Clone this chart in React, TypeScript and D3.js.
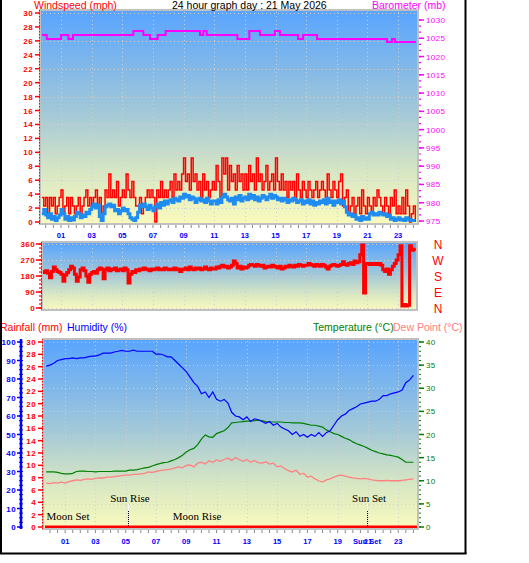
import React from 'react';
import * as d3 from 'd3';

// ---------- DATA ----------
const hourLabels = ['01','03','05','07','09','11','13','15','17','19','21','23'];
const labelHours = [1,3,5,7,9,11,13,15,17,19,21,23];

const windTicks = [0,2,4,6,8,10,12,14,16,18,20,22,24,26,28,30];
const baroTicks = [975,980,985,990,995,1000,1005,1010,1015,1020,1025,1030];
const dirTicks = [0,90,180,270,360];
const dirLetters = ['N','E','S','W','N'];
const humTicks = [0,10,20,30,40,50,60,70,80,90,100];
const rainTicks = [0,2,4,6,8,10,12,14,16,18,20,22,24,26,28,30];
const tempTicks = [0,5,10,15,20,25,30,35,40];

// 8 samples per hour starting at -0.25 h
const fastStart = -0.25;
const fastStep = 0.125;
const windGust = [
  3.5, 2.3,
  3.5, 1.2, 3.5, 2.3, 3.5, 1.2, 2.3, 3.5,
  4.6, 1.2, 2.3, 3.5, 1.2, 3.5, 2.3, 1.2,
  2.3, 3.5, 1.2, 2.3, 3.5, 4.6, 2.3, 3.5,
  2.3, 3.5, 4.6, 2.3, 3.5, 1.2, 2.3, 4.6,
  3.5, 6.9, 3.5, 4.6, 3.5, 5.8, 2.3, 3.5,
  4.6, 3.5, 6.9, 4.6, 3.5, 5.8, 3.5, 2.3,
  2.3, 3.5, 1.2, 2.3, 3.5, 4.6, 3.5, 4.6,
  3.5, 0, 4.6, 3.5, 5.8, 3.5, 4.6, 3.5,
  4.6, 5.8, 3.5, 6.9, 4.6, 5.8, 4.6, 6.9,
  9.2, 5.8, 6.9, 4.6, 9.2, 5.8, 6.9, 4.6,
  5.8, 3.5, 6.9, 4.6, 5.8, 3.5, 4.6, 5.8,
  4.6, 8.1, 5.8, 3.5, 9.2, 6.9, 9.2, 4.6,
  8.1, 5.8, 6.9, 4.6, 8.1, 5.8, 6.9, 4.6,
  6.9, 4.6, 8.1, 5.8, 6.9, 4.6, 9.2, 5.8,
  6.9, 4.6, 5.8, 8.1, 4.6, 5.8, 6.9, 4.6,
  9.2, 5.8, 4.6, 6.9, 4.6, 5.8, 3.5, 5.8,
  4.6, 5.8, 3.5, 6.9, 4.6, 3.5, 5.8, 4.6,
  3.5, 5.8, 4.6, 3.5, 4.6, 5.8, 3.5, 4.6,
  5.8, 4.6, 3.5, 6.9, 4.6, 3.5, 5.8, 4.6,
  3.5, 5.8, 6.9, 2.3, 3.5, 4.6, 1.2, 2.3,
  3.5, 1.2, 2.3, 3.5, 1.2, 4.6, 2.3, 1.2,
  3.5, 2.3, 1.2, 3.5, 2.3, 4.6, 3.5, 2.3,
  1.2, 3.5, 2.3, 1.2, 3.5, 2.3, 4.6, 1.2,
  2.3, 1.2, 3.5, 1.2, 4.6, 2.3, 0, 1.2,
  2.3, 0,
];
const windAvg = [
  1.2, 1.8,
  1.0, 0.6, 1.2, 0.4, 0.8, 0.2, 0.6, 1.0,
  1.8, 1.2, 0.4, 0.8, 0.2, 0.6, 0.3, 0.8,
  1.4, 1.2, 0.6, 1.0, 0.8, 1.4, 1.2, 1.8,
  2.2, 2.6, 2.0, 2.4, 0.8, 0.2, 1.2, 2.2,
  2.4, 2.6, 2.2, 2.4, 1.6, 1.8, 1.2, 1.6,
  2.0, 1.6, 1.8, 1.2, 0.6, 0.4, 0.2, 0.6,
  1.4, 2.4, 2.2, 2.6, 2.2, 1.8, 2.4, 2.0,
  1.6, 2.2, 2.6, 2.0, 2.8, 2.4, 3.0, 2.6,
  3.0, 3.2, 2.8, 3.4, 3.2, 3.0, 3.6, 3.4,
  4.0, 3.6, 3.8, 3.2, 3.6, 3.4, 2.8, 3.2,
  3.4, 3.0, 3.2, 2.8, 3.4, 3.0, 2.6, 3.0,
  3.0, 2.6, 3.2, 2.8, 3.6, 4.0, 3.6, 3.2,
  3.0, 3.4, 2.6, 3.6, 3.2, 3.8, 3.0, 3.4,
  3.6, 3.2, 4.0, 3.4, 3.8, 3.2, 3.6, 3.0,
  3.4, 3.8, 3.6, 3.2, 3.6, 4.0, 3.4, 3.8,
  3.6, 3.2, 3.4, 3.0, 3.4, 3.2, 2.8, 3.2,
  3.0, 3.4, 3.2, 2.8, 3.0, 3.2, 2.6, 3.0,
  2.8, 3.2, 2.6, 3.0, 2.4, 2.8, 2.6, 3.0,
  2.8, 3.2, 2.6, 3.4, 2.8, 3.0, 2.4, 3.0,
  2.8, 3.2, 2.6, 3.0, 2.2, 1.4, 1.0, 1.2,
  0.8, 1.0, 0.4, 0.6, 0.2, 0.8, 0.4, 0.6,
  0.4, 1.2, 1.4, 1.0, 1.2, 1.0, 1.4, 1.2,
  1.0, 1.2, 0.8, 1.0, 0.4, 0.6, 0.2, 0.4,
  0.6, 0.3, 0.4, 0.2, 0.6, 0.4, 0.3, 0.2,
  0.2, 0.2,
];
const windDir = [
  205, 200,
  210, 195, 170, 205, 230, 215, 205, 200,
  190, 150, 185, 200, 215, 235, 225, 190,
  150, 175, 215, 225, 210, 180, 145, 190,
  200, 205, 195, 215, 225, 220, 165, 215,
  225, 210, 220, 215, 225, 210, 215, 220,
  210, 225, 215, 140, 190, 205, 200, 215,
  210, 220, 215, 225, 220, 215, 210, 220,
  215, 220, 225, 215, 220, 215, 225, 220,
  215, 220, 215, 225, 215, 220, 205, 215,
  220, 225, 215, 230, 220, 215, 225, 220,
  225, 215, 220, 230, 220, 215, 225, 220,
  220, 230, 225, 235, 240, 230, 235, 225,
  230, 240, 265, 250, 225, 235, 220, 230,
  225, 230, 240, 245, 240, 235, 245, 240,
  235, 240, 225, 230, 235, 230, 240, 235,
  230, 225, 235, 220, 225, 235, 230, 240,
  235, 230, 240, 235, 245, 240, 235, 240,
  240, 250, 245, 240, 235, 245, 240, 235,
  245, 240, 230, 220, 235, 240, 245, 240,
  235, 240, 245, 260, 245, 240, 250, 255,
  245, 265, 255, 260, 300, 355, 84, 250,
  250, 245, 250, 245, 250, 245, 250, 240,
  215, 205, 220, 190, 215, 235, 250, 270,
  300, 350, 11, 20, 11, 15, 350, 325,
  330, 335,
];

// barometer step changes (hour, mb)
const baroHours = [-0.24, 0.07, 1.0, 1.48, 1.78, 5.72, 6.37, 6.81, 7.31, 7.83, 10.07, 10.29, 10.51, 12.51, 13.29, 13.99, 14.96, 15.29, 16.47, 16.8, 17.71, 22.28, 22.6, 22.8, 24.17];
const baroValues = [1025.9, 1024.8, 1025.9, 1024.8, 1025.9, 1027.0, 1025.9, 1024.8, 1025.9, 1027.0, 1025.9, 1027.0, 1025.9, 1024.8, 1027.0, 1025.9, 1027.0, 1025.9, 1024.8, 1025.9, 1024.8, 1024.0, 1024.8, 1024.0, 1024.0];

// 4 samples per hour starting at -0.25 h
const slowStart = -0.25;
const slowStep = 0.25;
const humidity = [
  87,
  87.5, 88.5, 90, 90.5,
  91, 91, 91.4, 91,
  91.4, 91.4, 92, 92.4,
  92.4, 93, 94, 94,
  94, 94.6, 95, 95.5,
  95, 95, 95.6, 95,
  95, 95, 95, 95,
  93.5, 93.5, 93, 92,
  92, 90, 88, 86,
  84, 81, 78, 76,
  72, 73, 70, 73,
  69, 68, 69, 67,
  62, 60, 59.5, 58,
  59.5, 57, 58.5, 58,
  57, 56, 57, 55,
  56, 54, 53, 52,
  50, 51.5, 49, 50,
  48.5, 50, 49, 51,
  49, 51, 52, 55,
  58, 60, 61, 63,
  64, 65, 66.5, 67,
  67.5, 68, 68, 69,
  71, 71, 72, 72.5,
  73, 74, 78, 79.5,
  82,
];
const temperature = [
  11.9,
  11.9, 11.9, 11.8, 11.6,
  11.5, 11.5, 11.6, 12.0,
  12.1, 12.1, 12.0, 12.0,
  11.9, 12.0, 12.0, 12.0,
  12.0, 12.1, 12.1, 12.1,
  12.1, 12.3, 12.3, 12.4,
  12.6, 12.8, 12.9, 13.2,
  13.5, 13.7, 13.9, 14.0,
  14.3, 14.6, 15.0, 15.5,
  16.2, 16.7, 17.0, 17.8,
  19.0, 19.9, 19.5, 19.4,
  20.2, 20.5, 20.8, 21.5,
  22.5, 22.6, 22.7, 22.8,
  22.9, 22.9, 23.0, 23.1,
  23.0, 22.8, 22.7, 22.7,
  22.7, 22.7, 22.6, 22.6,
  22.5, 22.5, 22.5, 22.4,
  22.2, 22.0, 22.0, 21.8,
  21.6, 21.0, 20.6, 20.2,
  20.0, 19.6, 19.2, 18.9,
  18.4, 18.0, 17.7, 17.4,
  17.0, 16.6, 16.3, 16.0,
  15.8, 15.6, 15.5, 15.3,
  15.1, 14.6, 14.0, 14.0,
  14.0,
];
const dewPoint = [
  9.5,
  9.4, 9.6, 9.5, 9.7,
  9.5, 9.8, 10.0, 10.2,
  10.1, 10.3, 10.4, 10.3,
  10.5, 10.6, 10.6, 10.8,
  10.8, 10.9, 11.0, 11.1,
  11.2, 11.2, 11.4, 11.4,
  11.5, 11.6, 11.9, 11.8,
  12.0, 12.2, 12.3, 12.4,
  12.5, 12.8, 13.0, 12.8,
  13.3, 13.4, 13.0, 13.8,
  14.0, 13.6, 14.3, 14.0,
  14.5, 14.2, 14.6, 14.9,
  14.4, 15.0, 14.6, 14.2,
  14.6, 14.0, 14.4, 13.9,
  13.8, 14.1, 13.6, 13.8,
  13.0, 13.2, 12.6, 12.2,
  11.9, 12.3, 11.4, 11.6,
  10.8, 11.0, 10.4, 10.0,
  9.7, 10.2, 10.4, 10.8,
  11.1, 11.2, 11.0, 10.8,
  10.6, 10.5, 10.4, 10.5,
  10.4, 10.2, 10.1, 10.0,
  10.0, 10.1, 10.0, 10.0,
  10.0, 10.1, 10.2, 10.3,
  10.4,
];
const rainHours = [-0.33, 24.25];
const rainfall = [0, 0];

const sunEventNames = ['Sun Rise', 'Sun Set'];
const sunEventHours = [5.15, 20.94];
const moonEventNames = ['Moon Set', 'Moon Rise'];
const moonEventHours = [1.19, 9.71];

// ---------- LAYOUT ----------
const FONT = '"Liberation Sans", Arial, sans-serif';
const SERIF = '"Liberation Serif", "Times New Roman", serif';
const GRID = '#cfcfcf';
const BORDER = '#c0c0c0';

const top = { x0: 40, x1: 418, y0: 10, y1: 224 };
const mid = { x0: 42, x1: 417, y0: 242, y1: 310 };
const bot = { x0: 43, x1: 418, y0: 339, y1: 529 };

const xTop = d3.scaleLinear().domain([0, 24]).range([45.7, 413.4]);
const xBot = d3.scaleLinear().domain([0, 24]).range([50, 413.4]);
const windY = d3.scaleLinear().domain([0, 30]).range([222, 13]);
const baroY = d3.scaleLinear().domain([975, 1030]).range([221, 20]);
const dirY = d3.scaleLinear().domain([0, 360]).range([308, 244]);
const humY = d3.scaleLinear().domain([0, 100]).range([527, 342]);
const rainY = d3.scaleLinear().domain([0, 30]).range([527, 342]);
const tempY = d3.scaleLinear().domain([0, 40]).range([527, 342]);

const fastHours = windGust.map((_, i) => fastStart + i * fastStep);
const slowHours = humidity.map((_, i) => slowStart + i * slowStep);

function seriesPath(hours: number[], vals: number[], xs: any, ys: any, curve: any = d3.curveStepAfter) {
  const gen = d3.line<number>()
    .x((_, i) => xs(hours[i]))
    .y((v) => ys(v))
    .curve(curve);
  return gen(vals) || '';
}

const halfHours = d3.range(-0.5, 24.01, 0.5).filter((h) => h >= -0.2);
const oddHours = labelHours;

function Background({ p, id }: { p: any; id: string }) {
  return <rect x={p.x0} y={p.y0} width={p.x1 - p.x0} height={p.y1 - p.y0} fill={`url(#${id})`} />;
}

function Border({ p }: { p: any }) {
  return <rect x={p.x0} y={p.y0} width={p.x1 - p.x0} height={p.y1 - p.y0} fill="none" stroke={BORDER} strokeWidth={2} />;
}

export default function App() {
  const grad = (id: string) => (
    <linearGradient id={id} x1="0" y1="0" x2="0" y2="1">
      <stop offset="0" stopColor="#58a4ff" />
      <stop offset="0.5" stopColor="#a6cad6" />
      <stop offset="0.75" stopColor="#d6e6c4" />
      <stop offset="1" stopColor="#fafabd" />
    </linearGradient>
  );

  return (
    <svg width={529} height={563} style={{ position: 'absolute', left: 0, top: 0, background: '#fff' }}
      fontFamily={FONT}>
      <defs>{grad('g1')}{grad('g2')}{grad('g3')}</defs>

      {/* ================= TOP PANEL ================= */}
      <Background p={top} id="g1" />
      <g stroke={GRID} strokeDasharray="1,3" shapeRendering="crispEdges">
        {oddHours.map((h) => (
          <line key={'tv' + h} x1={Math.round(xTop(h)) + 0.5} x2={Math.round(xTop(h)) + 0.5} y1={top.y0 + 2} y2={top.y1} />
        ))}
        {[2, 6, 10, 14, 18, 22, 26, 30].map((v) => (
          <line key={'th' + v} x1={top.x0 + 2} x2={top.x1} y1={Math.round(windY(v)) + 0.5} y2={Math.round(windY(v)) + 0.5} />
        ))}
      </g>
      <path d={seriesPath(baroHours, baroValues, xTop, baroY)} fill="none" stroke="#ff00ff" strokeWidth={2} />
      <path d={seriesPath(fastHours, windGust, xTop, windY)} fill="none" stroke="#ff0000" strokeWidth={1.5} />
      <path d={seriesPath(fastHours, windAvg, xTop, windY)} fill="none" stroke="#1e8cf0" strokeWidth={3} />
      <Border p={top} />
      {/* left wind axis */}
      <line x1={39.5} x2={39.5} y1={top.y0} y2={top.y1} stroke="#ff0000" strokeDasharray="1.5,1.5" />
      {windTicks.map((v) => (
        <g key={'wt' + v}>
          <line x1={35} x2={40} y1={windY(v)} y2={windY(v)} stroke="#ff0000" strokeWidth={1.5} />
          <text x={33} y={windY(v) + 3} fontSize={8} fontWeight="bold" fill="#ff0000" textAnchor="end" letterSpacing={0.4}>{v}</text>
        </g>
      ))}
      {/* right baro axis */}
      {d3.range(975, 1031, 5 / 3).map((v, i) => (
        <line key={'bm' + i} x1={419} x2={421} y1={baroY(v)} y2={baroY(v)} stroke="#ff00ff" strokeWidth={1.2} />
      ))}
      {baroTicks.map((v) => (
        <g key={'bt' + v}>
          <line x1={419} x2={424} y1={baroY(v)} y2={baroY(v)} stroke="#ff00ff" strokeWidth={1.5} />
          <text x={426} y={baroY(v) + 3} fontSize={8} fill="#ff00ff" letterSpacing={0.4}>{v}</text>
        </g>
      ))}
      {/* hour ticks under top panel */}
      {halfHours.map((h) => (
        <line key={'tt' + h} x1={xTop(h)} x2={xTop(h)} y1={225} y2={228} stroke="#8a8a8a" strokeWidth={1} />
      ))}
      {labelHours.map((h, i) => (
        <text key={'hl' + h} x={xTop(h)} y={238} fontSize={7.5} fontWeight="bold" fill="#0000ff" textAnchor="middle">{hourLabels[i]}</text>
      ))}

      {/* ================= MIDDLE PANEL ================= */}
      <Background p={mid} id="g2" />
      <g stroke={GRID} strokeDasharray="1,3" shapeRendering="crispEdges">
        {oddHours.map((h) => (
          <line key={'mv' + h} x1={Math.round(xTop(h)) + 0.5} x2={Math.round(xTop(h)) + 0.5} y1={mid.y0 + 2} y2={mid.y1} />
        ))}
        {dirTicks.map((v) => (
          <line key={'mh' + v} x1={mid.x0 + 2} x2={mid.x1} y1={Math.round(dirY(v)) + 0.5} y2={Math.round(dirY(v)) + 0.5} />
        ))}
      </g>
      <path d={seriesPath(fastHours, windDir, xTop, dirY)} fill="none" stroke="#ff0000" strokeWidth={3} />
      <Border p={mid} />
      <line x1={41.5} x2={41.5} y1={mid.y0} y2={mid.y1} stroke="#ff0000" strokeDasharray="1.5,1.5" />
      {d3.range(0, 361, 22.5).map((v, i) => (
        <line key={'dm' + i} x1={39} x2={42} y1={dirY(v)} y2={dirY(v)} stroke="#ff0000" strokeWidth={1.2} />
      ))}
      {dirTicks.map((v, i) => (
        <g key={'dt' + v}>
          <line x1={36} x2={42} y1={dirY(v)} y2={dirY(v)} stroke="#ff0000" strokeWidth={1.5} />
          <text x={35} y={dirY(v) + 3} fontSize={8} fontWeight="bold" fill="#ff0000" textAnchor="end" letterSpacing={0.4}>{v}</text>
          <text x={438} y={dirY(v) + 5} fontSize={12} fill="#ff0000" textAnchor="middle">{dirLetters[i]}</text>
        </g>
      ))}

      {/* ================= BOTTOM PANEL ================= */}
      <Background p={bot} id="g3" />
      <g stroke={GRID} strokeDasharray="1,3" shapeRendering="crispEdges">
        {oddHours.map((h) => (
          <line key={'bv' + h} x1={Math.round(xBot(h)) + 0.5} x2={Math.round(xBot(h)) + 0.5} y1={bot.y0 + 2} y2={bot.y1} />
        ))}
        {tempTicks.map((v) => (
          <line key={'bh' + v} x1={bot.x0 + 2} x2={bot.x1} y1={Math.round(tempY(v)) + 0.5} y2={Math.round(tempY(v)) + 0.5} />
        ))}
      </g>
      <path d={seriesPath(slowHours, dewPoint, xBot, tempY, d3.curveLinear)} fill="none" stroke="#ff8080" strokeWidth={1.3} />
      <path d={seriesPath(slowHours, temperature, xBot, tempY, d3.curveLinear)} fill="none" stroke="#008000" strokeWidth={1.2} />
      <path d={seriesPath(slowHours, humidity, xBot, humY, d3.curveLinear)} fill="none" stroke="#0000ff" strokeWidth={1.2} />
      {/* sun / moon events */}
      {sunEventHours.map((h, i) => (
        <g key={'se' + i}>
          <line x1={Math.round(xBot(h)) + 0.5} x2={Math.round(xBot(h)) + 0.5} y1={504} y2={511} stroke="#ffffff" strokeWidth={1} />
          <line x1={Math.round(xBot(h)) + 0.5} x2={Math.round(xBot(h)) + 0.5} y1={511} y2={527} stroke="#000000" strokeWidth={1} strokeDasharray="1,1" />
          <text x={xBot(h) + 2} y={502} fontSize={11} fontFamily={SERIF} fill="#000" textAnchor="middle">{sunEventNames[i]}</text>
        </g>
      ))}
      {moonEventHours.map((h, i) => (
        <g key={'me' + i}>
          <line x1={Math.round(xBot(h)) + 0.5} x2={Math.round(xBot(h)) + 0.5} y1={524} y2={529} stroke="#ffffff" strokeWidth={1} />
          <text x={xBot(h)} y={520} fontSize={11} fontFamily={SERIF} fill="#000" textAnchor="middle">{moonEventNames[i]}</text>
        </g>
      ))}
      <path d={seriesPath(rainHours, rainfall, xBot, rainY)} fill="none" stroke="#ff0000" strokeWidth={3} />
      <Border p={bot} />
      {/* humidity axis */}
      <line x1={21} x2={21} y1={bot.y0} y2={bot.y1} stroke="#0000ff" strokeWidth={2.5} />
      {d3.range(0, 101, 2.5).map((v, i) => (
        <line key={'hm' + i} x1={19} x2={23} y1={humY(v)} y2={humY(v)} stroke="#0000ff" strokeWidth={1} />
      ))}
      {humTicks.map((v) => (
        <g key={'ht' + v}>
          <line x1={17} x2={21} y1={humY(v)} y2={humY(v)} stroke="#0000ff" strokeWidth={1.5} />
          <text x={16} y={humY(v) + 3} fontSize={8} fontWeight="bold" fill="#0000ff" textAnchor="end" letterSpacing={0.4}>{v}</text>
        </g>
      ))}
      {/* rainfall axis */}
      <line x1={42.5} x2={42.5} y1={bot.y0} y2={bot.y1} stroke="#ff0000" strokeDasharray="1.5,1.5" />
      {rainTicks.map((v) => (
        <g key={'rt' + v}>
          <line x1={38} x2={43} y1={rainY(v)} y2={rainY(v)} stroke="#ff0000" strokeWidth={1.5} />
          <text x={36} y={rainY(v) + 3} fontSize={8} fontWeight="bold" fill="#ff0000" textAnchor="end" letterSpacing={0.4}>{v}</text>
        </g>
      ))}
      {/* temperature axis */}
      {d3.range(0, 41, 1).map((v) => (
        <line key={'tm' + v} x1={419} x2={421} y1={tempY(v)} y2={tempY(v)} stroke="#008000" strokeWidth={1} />
      ))}
      {tempTicks.map((v) => (
        <g key={'tk' + v}>
          <line x1={419} x2={424} y1={tempY(v)} y2={tempY(v)} stroke="#008000" strokeWidth={1.5} />
          <text x={426} y={tempY(v) + 3} fontSize={8} fill="#008000" letterSpacing={0.4}>{v}</text>
        </g>
      ))}
      {halfHours.map((h) => (
        <line key={'bt' + h} x1={xBot(h)} x2={xBot(h)} y1={530} y2={533} stroke="#8a8a8a" strokeWidth={1} />
      ))}
      {labelHours.map((h, i) => (
        <text key={'bl' + h} x={xBot(h)} y={544} fontSize={7.5} fontWeight="bold" fill="#0000ff" textAnchor="middle">{hourLabels[i]}</text>
      ))}
      <text x={xBot(sunEventHours[1])} y={544} fontSize={7.5} fontWeight="bold" fill="#0000ff" textAnchor="middle">{sunEventNames[1]}</text>

      {/* ================= HEADERS ================= */}
      <text x={34} y={9} fontSize={10.5} fill="#ff0000">Windspeed (mph)</text>
      <text x={172} y={9} fontSize={10.5} fill="#000">24 hour graph day : 21 May 2026</text>
      <text x={372} y={9} fontSize={10.5} fill="#ff00ff">Barometer (mb)</text>
      <text x={0} y={331} fontSize={10.5} fill="#ff0000">Rainfall (mm)</text>
      <text x={67} y={331} fontSize={10.5} fill="#0000ff">Humidity (%)</text>
      <text x={313} y={331} fontSize={10.5} fill="#008000">Temperature (°C)</text>
      <text x={393} y={331} fontSize={10.5} fill="#ff8080">Dew Point (°C)</text>

      {/* outer frame */}
      <line x1={1} x2={1} y1={0} y2={554} stroke="#000" strokeWidth={2} />
      <line x1={465.5} x2={465.5} y1={0} y2={554} stroke="#000" strokeWidth={2} />
      <line x1={0} x2={466.5} y1={553.5} y2={553.5} stroke="#000" strokeWidth={2} />
    </svg>
  );
}
